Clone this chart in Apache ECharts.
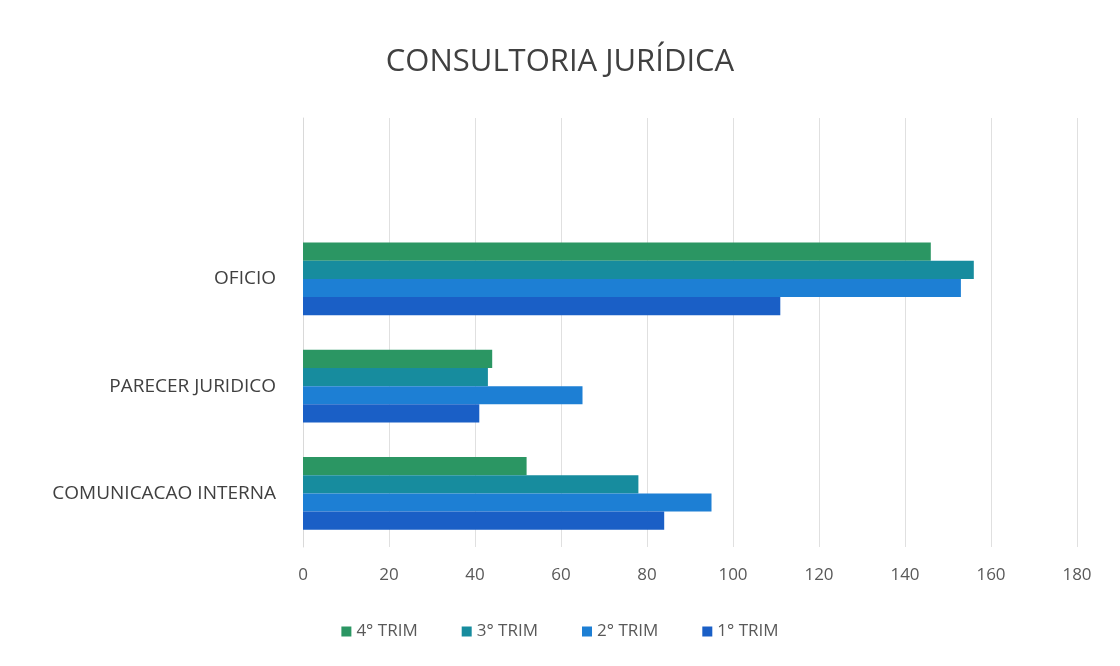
<!DOCTYPE html>
<html>
<head>
<meta charset="utf-8">
<script src="https://cdn.jsdelivr.net/npm/echarts@6/dist/echarts.min.js"></script>
<style>html,body{margin:0;padding:0;background:#fff;}#c{width:1120px;height:666px;}</style>
</head>
<body>
<div id="c"></div>
<script>
const categories = ['COMUNICACAO INTERNA', 'PARECER JURIDICO', 'OFICIO'];
const trim1 = [84, 41, 111];
const trim2 = [95, 65, 153];
const trim3 = [78, 43, 156];
const trim4 = [52, 44, 146];
const seriesNames = ['4° TRIM', '3° TRIM', '2° TRIM', '1° TRIM'];
const xTicks = [0, 20, 40, 60, 80, 100, 120, 140, 160, 180];

const colors = ['#2b9663', '#178c9e', '#1d7fd4', '#1a5fc6'];
const font = '"Open Sans", Lato, sans-serif';
const chart = echarts.init(document.getElementById('c'));
const vals = [trim4, trim3, trim2, trim1];
chart.setOption({
  backgroundColor: '#fff',
  title: {
    text: 'CONSULTORIA JURÍDICA', left: 'center', top: 42,
    textStyle: {fontFamily: font, fontSize: 31, fontWeight: 'normal', color: '#404040'}
  },
  legend: {
    data: seriesNames, bottom: 21, left: 'center',
    itemWidth: 10, itemHeight: 10, itemGap: 44, icon: 'rect',
    textStyle: {fontFamily: font, fontSize: 17, color: '#595959'}
  },
  grid: {left: 303, right: 43, top: 118, bottom: 119, containLabel: false},
  xAxis: {
    type: 'value', min: xTicks[0], max: xTicks[xTicks.length - 1], interval: 20,
    axisLine: {show: false}, axisTick: {show: false},
    splitLine: {lineStyle: {color: '#e0e0e0', width: 1}},
    axisLabel: {fontFamily: font, fontSize: 17, color: '#595959', margin: 20}
  },
  yAxis: {
    type: 'category', data: categories, max: categories.length,
    axisLine: {show: true, lineStyle: {color: '#d9d9d9'}}, axisTick: {show: false},
    axisLabel: {fontFamily: font, fontSize: 19, color: '#404040', margin: 27,
      formatter: v => (categories.indexOf(v) >= 0 ? v : '')}
  },
  series: seriesNames.map((n, i) => ({
    name: n, type: 'bar', data: vals[i],
    itemStyle: {color: colors[i]},
    barGap: '0%', barCategoryGap: '32%'
  }))
});
</script>
</body>
</html>
